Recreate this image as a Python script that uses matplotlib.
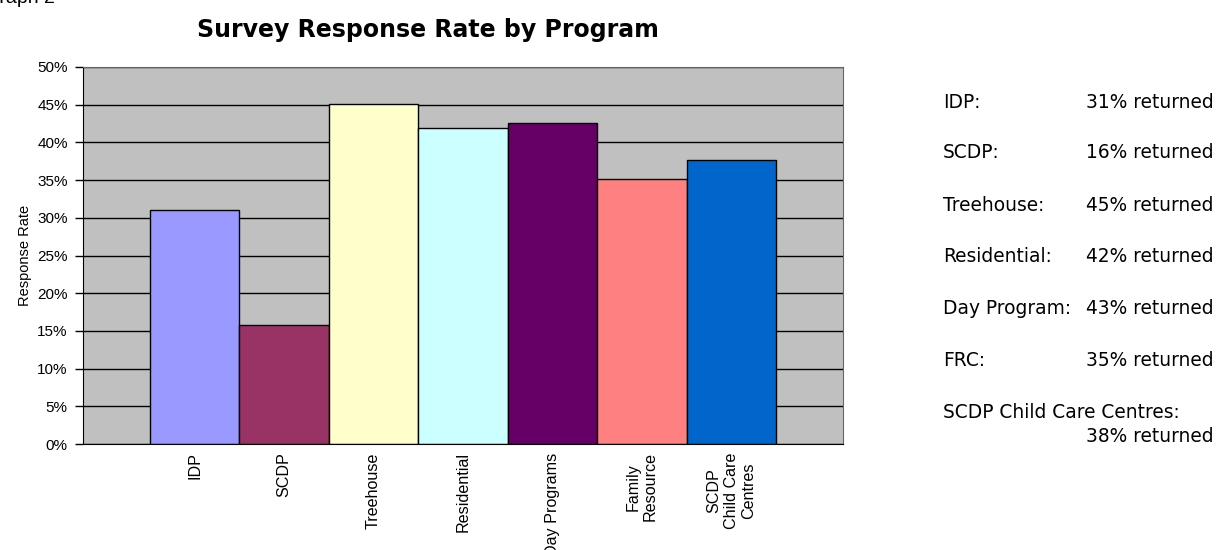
import matplotlib
matplotlib.use("Agg")
import matplotlib.pyplot as plt
import numpy as np

programs = ["IDP", "SCDP", "Treehouse", "Residential", "Day Programs",
            "Family\nResource", "SCDP\nChild Care\nCentres"]
response_rate = [31.1, 15.8, 45.1, 41.9, 42.6, 35.2, 37.6]
bar_colors = ["#9999FF", "#993366", "#FFFFCC", "#CCFFFF", "#660066",
              "#FF8080", "#0066CC"]

summary_names = ["IDP:", "SCDP:", "Treehouse:", "Residential:", "Day Program:",
                 "FRC:", "SCDP Child Care Centres:"]

W, H = 1222, 550
fig = plt.figure(figsize=(W / 100, H / 100), dpi=100)
ax = fig.add_axes([83 / W, (H - 444) / H, 760 / W, 377 / H])

x = np.arange(len(programs))
ax.set_facecolor("#C0C0C0")
ax.set_axisbelow(True)
ax.yaxis.grid(True, color="black", linewidth=1)
ax.bar(x, response_rate, width=1.0, color=bar_colors,
       edgecolor="black", linewidth=1)

ax.set_xlim(-1.25, 7.25)
ax.set_ylim(0, 50)
ax.set_yticks(np.arange(0, 51, 5))
ax.set_yticklabels([f"{v}%" for v in range(0, 51, 5)],
                   family="Liberation Sans", fontsize=11)
ax.set_xticks(x)
ax.set_xticklabels(programs, rotation=90, family="Liberation Sans",
                   fontsize=11.6, multialignment="center")
ax.tick_params(axis="x", length=0, pad=6)
ax.tick_params(axis="y", length=6, width=1, direction="out", pad=5)
ax.set_ylabel("Response Rate", family="Liberation Sans", fontsize=10.5,
              labelpad=4)

for side in ["top", "right"]:
    ax.spines[side].set_color("#666666")
for side in ["left", "bottom"]:
    ax.spines[side].set_color("black")

fig.text(428 / W, 1 - 30 / H, "Survey Response Rate by Program",
         family="DejaVu Sans", fontweight="bold", fontsize=17,
         ha="center", va="center")
fig.text(55 / W, 1 - 3 / H, "Graph 2", family="Liberation Sans",
         fontsize=14, ha="right", va="baseline")

# summary list on the right
row_y = [102, 153, 205, 257, 308, 360, 412]
for name, rate, y in zip(summary_names, response_rate, row_y):
    fig.text(943 / W, 1 - y / H, name, family="DejaVu Sans",
             fontsize=13.4, ha="left", va="center")
    if name.startswith("SCDP Child"):
        y += 25
    fig.text(1214 / W, 1 - y / H, f"{rate:.0f}% returned",
             family="DejaVu Sans", fontsize=13.4, ha="right", va="center")

fig.savefig("out.png", dpi=100)
